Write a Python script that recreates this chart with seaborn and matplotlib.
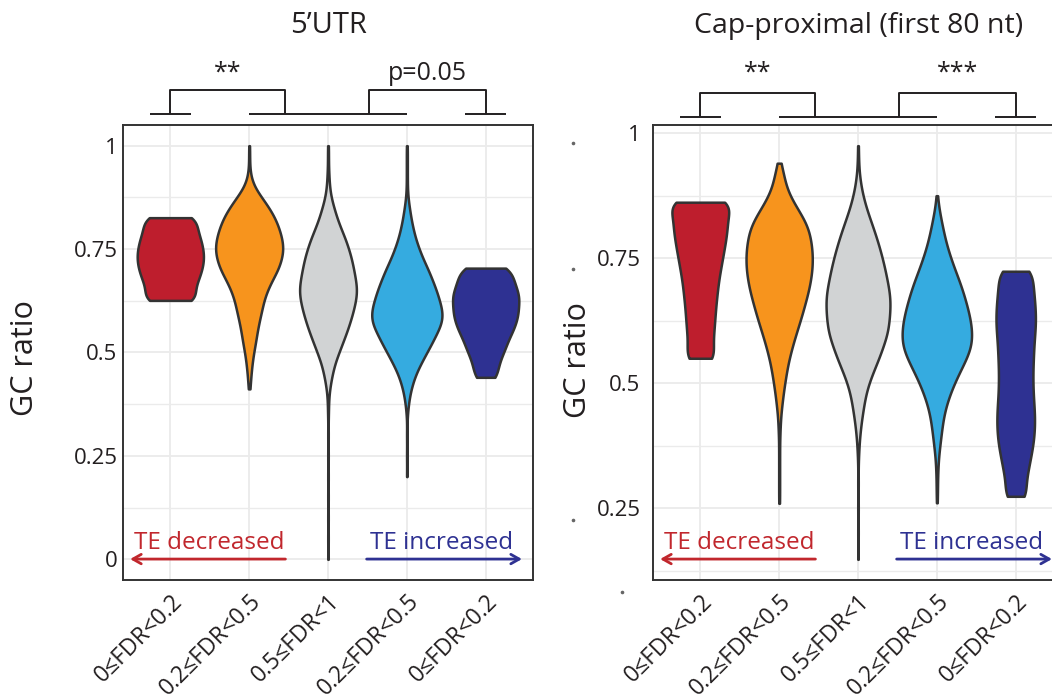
import numpy as np
import pandas as pd
import matplotlib
matplotlib.use("Agg")
import matplotlib.pyplot as plt
import matplotlib.transforms as mtransforms
from matplotlib.patches import FancyArrowPatch
from matplotlib.lines import Line2D
from matplotlib.ticker import FixedLocator
import seaborn as sns

# ---------------- data ----------------
GROUPS = ["down_fdr_0_0.2", "down_fdr_0.2_0.5", "fdr_0.5_1", "up_fdr_0.2_0.5", "up_fdr_0_0.2"]
TICK_LABELS = ["0≤FDR<0.2", "0.2≤FDR<0.5", "0.5≤FDR<1", "0.2≤FDR<0.5", "0≤FDR<0.2"]

# 5'UTR GC ratio: value levels and number of transcripts at each level
UTR_DS_GC = [0.626, 0.651, 0.676, 0.701, 0.726, 0.751, 0.776, 0.801, 0.826]
UTR_DS_N = [60, 46, 57, 64, 68, 66, 61, 52, 58]
UTR_DW_GC = [0.412, 0.425, 0.45, 0.475, 0.50, 0.525, 0.55, 0.575, 0.60, 0.625, 0.65, 0.675, 0.70,
             0.725, 0.75, 0.775, 0.80, 0.825, 0.85, 0.875, 0.90, 0.925, 0.95, 0.975, 1.0]
UTR_DW_N = [1, 2, 4, 6, 9, 13, 16, 20, 25, 29, 36, 46, 58, 65, 69, 66, 60, 52, 40, 25, 10, 3, 1, 1, 1]
UTR_NS_GC = [0.0, 0.05, 0.10, 0.15, 0.20, 0.25, 0.30, 0.35, 0.375, 0.40, 0.425, 0.45, 0.475, 0.50,
             0.525, 0.55, 0.575, 0.60, 0.625, 0.65, 0.675, 0.70, 0.725, 0.75, 0.775, 0.80, 0.825,
             0.85, 0.875, 0.90, 0.925, 0.95, 0.975, 1.0]
UTR_NS_N = [1, 1, 1, 1, 1, 1, 1, 1, 1, 2, 5, 9, 14, 22, 30, 38, 45, 51, 56, 59, 56, 52, 48, 42, 35,
            26, 18, 12, 6, 3, 2, 1, 1, 1]
UTR_UW_GC = [0.20, 0.25, 0.30, 0.35, 0.375, 0.40, 0.425, 0.45, 0.475, 0.50, 0.525, 0.55, 0.575, 0.60,
             0.625, 0.65, 0.675, 0.70, 0.725, 0.75, 0.775, 0.80, 0.825, 0.85, 0.875, 0.90, 0.925,
             0.95, 0.975, 1.0]
UTR_UW_N = [1, 1, 1, 1, 3, 6, 11, 18, 28, 39, 50, 60, 70, 70, 64, 58, 50, 42, 32, 24, 17, 12, 8, 5,
            2, 1, 1, 1, 1, 1]
UTR_US_GC = [0.440, 0.466, 0.493, 0.519, 0.546, 0.572, 0.598, 0.625, 0.651, 0.678, 0.704]
UTR_US_N = [23, 25, 33, 42, 52, 60, 66, 68, 64, 56, 50]

# Cap-proximal (first 80 nt) GC ratio
CAP_DS_GC = [0.550, 0.576, 0.602, 0.628, 0.654, 0.680, 0.706, 0.732, 0.758, 0.784, 0.810, 0.836, 0.862]
CAP_DS_N = [34, 26, 29, 31, 33, 36, 39, 44, 49, 54, 58, 58, 73]
CAP_DW_GC = [0.26, 0.285, 0.31, 0.335, 0.36, 0.385, 0.41, 0.435, 0.46, 0.485, 0.51, 0.535, 0.56,
             0.585, 0.61, 0.635, 0.66, 0.685, 0.71, 0.735, 0.76, 0.785, 0.81, 0.835, 0.86, 0.885,
             0.91, 0.925, 0.94]
CAP_DW_N = [1, 1, 1, 1, 1, 1, 2, 3, 6, 9, 13, 17, 23, 30, 38, 46, 53, 60, 65, 68, 68, 65, 60, 47, 30,
            17, 9, 4, 2]
CAP_NS_GC = [0.148, 0.20, 0.25, 0.30, 0.35, 0.375, 0.40, 0.425, 0.45, 0.475, 0.50, 0.525, 0.55,
             0.575, 0.60, 0.625, 0.65, 0.675, 0.70, 0.725, 0.75, 0.775, 0.80, 0.825, 0.85, 0.875,
             0.90, 0.925, 0.95, 0.975]
CAP_NS_N = [1, 1, 1, 1, 1, 2, 4, 7, 11, 15, 22, 32, 43, 52, 61, 64, 66, 66, 61, 56, 50, 43, 35, 26,
            17, 10, 5, 2, 1, 1]
CAP_UW_GC = [0.261, 0.285, 0.30, 0.325, 0.35, 0.375, 0.40, 0.425, 0.45, 0.475, 0.50, 0.525, 0.55,
             0.575, 0.60, 0.625, 0.65, 0.675, 0.70, 0.725, 0.75, 0.775, 0.80, 0.825, 0.85, 0.875]
CAP_UW_N = [1, 1, 1, 2, 3, 6, 9, 12, 17, 25, 35, 47, 60, 70, 71, 68, 62, 55, 47, 37, 28, 20, 14, 9, 4, 1]
CAP_US_GC = [0.274, 0.299, 0.324, 0.349, 0.374, 0.399, 0.424, 0.449, 0.474, 0.499, 0.524, 0.549,
             0.574, 0.599, 0.624, 0.649, 0.674, 0.699, 0.724]
CAP_US_N = [24, 20, 25, 30, 35, 38, 39, 38, 36, 35, 35, 36, 37, 39, 41, 40, 38, 35, 36]

UTR_SIG = ["**", "p=0.05"]
CAP_SIG = ["**", "***"]

# ---------------- style ----------------
COLORS = ["#BE1E2D", "#F7941D", "#D1D3D4", "#35ABE0", "#2E3192"]
UTR_WIDTHS = [0.84, 0.85, 0.72, 0.89, 0.84]
CAP_WIDTHS = [0.72, 0.84, 0.81, 0.88, 0.50]
KDE_SIGMA = 0.02          # smoothing, in GC-ratio units
OUTLINE = "#333333"
GRID = "#EBEBEB"
TEXT = "#231F20"
RED_TXT = "#C1272D"
BLUE_TXT = "#2E3192"

sns.set_style("white")
plt.rcParams["font.family"] = ["Open Sans", "DejaVu Sans"]

W, H = 1052, 700
fig = plt.figure(figsize=(W / 100, H / 100), dpi=100)
ax1 = fig.add_axes([123 / W, 120 / H, 410 / W, 455 / H])
ax2 = fig.add_axes([653 / W, 120 / H, 410 / W, 455 / H])


def build_table(levels, counts):
    parts = []
    for g, lv, n in zip(GROUPS, levels, counts):
        parts.append(pd.DataFrame({"group": g, "gc": np.repeat(np.asarray(lv, float), n)}))
    return pd.concat(parts, ignore_index=True)


def draw_panel(ax, df, widths, yticks, ylabels, yminor, label_pad, sig, foot_y, top_y, text_y):
    for g, c, w in zip(GROUPS, COLORS, widths):
        sub = df[df["group"] == g]
        sns.violinplot(data=sub, x="group", y="gc", order=GROUPS,
                       color=c, width=w, density_norm="width", cut=0, inner=None,
                       bw_method=KDE_SIGMA / sub["gc"].std(ddof=1), gridsize=500,
                       linewidth=1.8, linecolor=OUTLINE, saturation=1, ax=ax)
    lo, hi = df["gc"].min(), df["gc"].max()
    pad = 0.05 * (hi - lo)
    ax.set_ylim(lo - pad, hi + pad)
    ax.set_xlim(-0.6, 4.6)
    ax.set_xlabel("")
    ax.set_ylabel("")
    ax.set_yticks(yticks)
    ax.set_yticklabels(ylabels)
    ax.yaxis.set_minor_locator(FixedLocator(yminor))
    ax.set_xticks(range(len(GROUPS)))
    ax.set_xticklabels(TICK_LABELS, rotation=45, ha="right", va="top", rotation_mode="anchor",
                       fontsize=16.5)
    off = mtransforms.ScaledTranslation(9 / 100, 0, fig.dpi_scale_trans)
    for lab in ax.get_xticklabels():
        lab.set_transform(lab.get_transform() + off)
    ax.set_axisbelow(True)
    ax.grid(True, which="major", axis="both", color=GRID, lw=1.3)
    ax.grid(True, which="minor", axis="y", color=GRID, lw=1.0)
    ax.tick_params(which="major", length=2, width=0.8, color="#777777", labelcolor=TEXT)
    ax.tick_params(axis="y", pad=label_pad, labelsize=16)
    ax.tick_params(axis="x", pad=5)
    ax.tick_params(which="minor", length=0)
    for s in ax.spines.values():
        s.set_visible(True)
        s.set_color(OUTLINE)
        s.set_linewidth(1.4)

    trans = mtransforms.blended_transform_factory(ax.transData, ax.transAxes)
    kw = dict(color=TEXT, lw=1.4, transform=trans, clip_on=False, solid_capstyle="butt")
    for x0, x1 in [(-0.26, 0.26), (1.0, 3.0), (3.74, 4.26)]:
        ax.add_line(Line2D([x0, x1], [foot_y, foot_y], **kw))
    for (xa, xb), lab in zip([(0.0, 1.45), (2.52, 4.0)], sig):
        ax.add_line(Line2D([xa, xa, xb, xb], [foot_y, top_y, top_y, foot_y], **kw))
        ax.text((xa + xb) / 2, text_y, lab, transform=trans, ha="center", va="baseline",
                fontsize=18, color=TEXT, clip_on=False)

    # direction annotations
    ay = 0.046
    ax.add_patch(FancyArrowPatch((1.46, ay), (-0.51, ay), transform=trans,
                                 arrowstyle="->,head_length=0.3,head_width=0.17",
                                 mutation_scale=20, color=RED_TXT, lw=2, clip_on=False,
                                 shrinkA=0, shrinkB=0))
    ax.add_patch(FancyArrowPatch((2.49, ay), (4.46, ay), transform=trans,
                                 arrowstyle="->,head_length=0.3,head_width=0.17",
                                 mutation_scale=20, color=BLUE_TXT, lw=2, clip_on=False,
                                 shrinkA=0, shrinkB=0))
    ax.text(1.45, 0.068, "TE decreased", transform=trans, ha="right", va="baseline",
            fontsize=17.5, color=RED_TXT)
    ax.text(2.53, 0.068, "TE increased", transform=trans, ha="left", va="baseline",
            fontsize=17.5, color=BLUE_TXT, clip_on=False)


df_utr = build_table([UTR_DS_GC, UTR_DW_GC, UTR_NS_GC, UTR_UW_GC, UTR_US_GC],
                     [UTR_DS_N, UTR_DW_N, UTR_NS_N, UTR_UW_N, UTR_US_N])
df_cap = build_table([CAP_DS_GC, CAP_DW_GC, CAP_NS_GC, CAP_UW_GC, CAP_US_GC],
                     [CAP_DS_N, CAP_DW_N, CAP_NS_N, CAP_UW_N, CAP_US_N])

draw_panel(ax1, df_utr, UTR_WIDTHS, [0, 0.25, 0.5, 0.75, 1], ["0", "0.25", "0.5", "0.75", "1"],
           [0.125, 0.375, 0.625, 0.875], 2, UTR_SIG, 1.024, 1.077, 1.099)
draw_panel(ax2, df_cap, CAP_WIDTHS, [0.25, 0.5, 0.75, 1], ["0.25", "0.5", "0.75", "1"],
           [0.125, 0.375, 0.625, 0.875], 7, CAP_SIG, 1.018, 1.070, 1.099)

fig.text(328 / W, 1 - 33 / H, "5’UTR", ha="center", va="baseline", fontsize=21, color=TEXT)
fig.text(859 / W, 1 - 33 / H, "Cap-proximal (first 80 nt)", ha="center", va="baseline",
         fontsize=20.5, color=TEXT)
fig.text(25 / W, 1 - 358 / H, "GC ratio", rotation=90, ha="center", va="center",
         fontsize=22, color=TEXT)
fig.text(578 / W, 1 - 360 / H, "GC ratio", rotation=90, ha="center", va="center",
         fontsize=22, color=TEXT)

# faint stray tick marks visible in the reference
for px, py in [(573, 143), (573, 269), (573, 520), (622, 592)]:
    fig.add_artist(Line2D([px / W], [1 - py / H], marker="o", ms=1.6, color="#666666",
                          transform=fig.transFigure, linestyle="none"))

fig.savefig("out.png", dpi=100, facecolor="white")
